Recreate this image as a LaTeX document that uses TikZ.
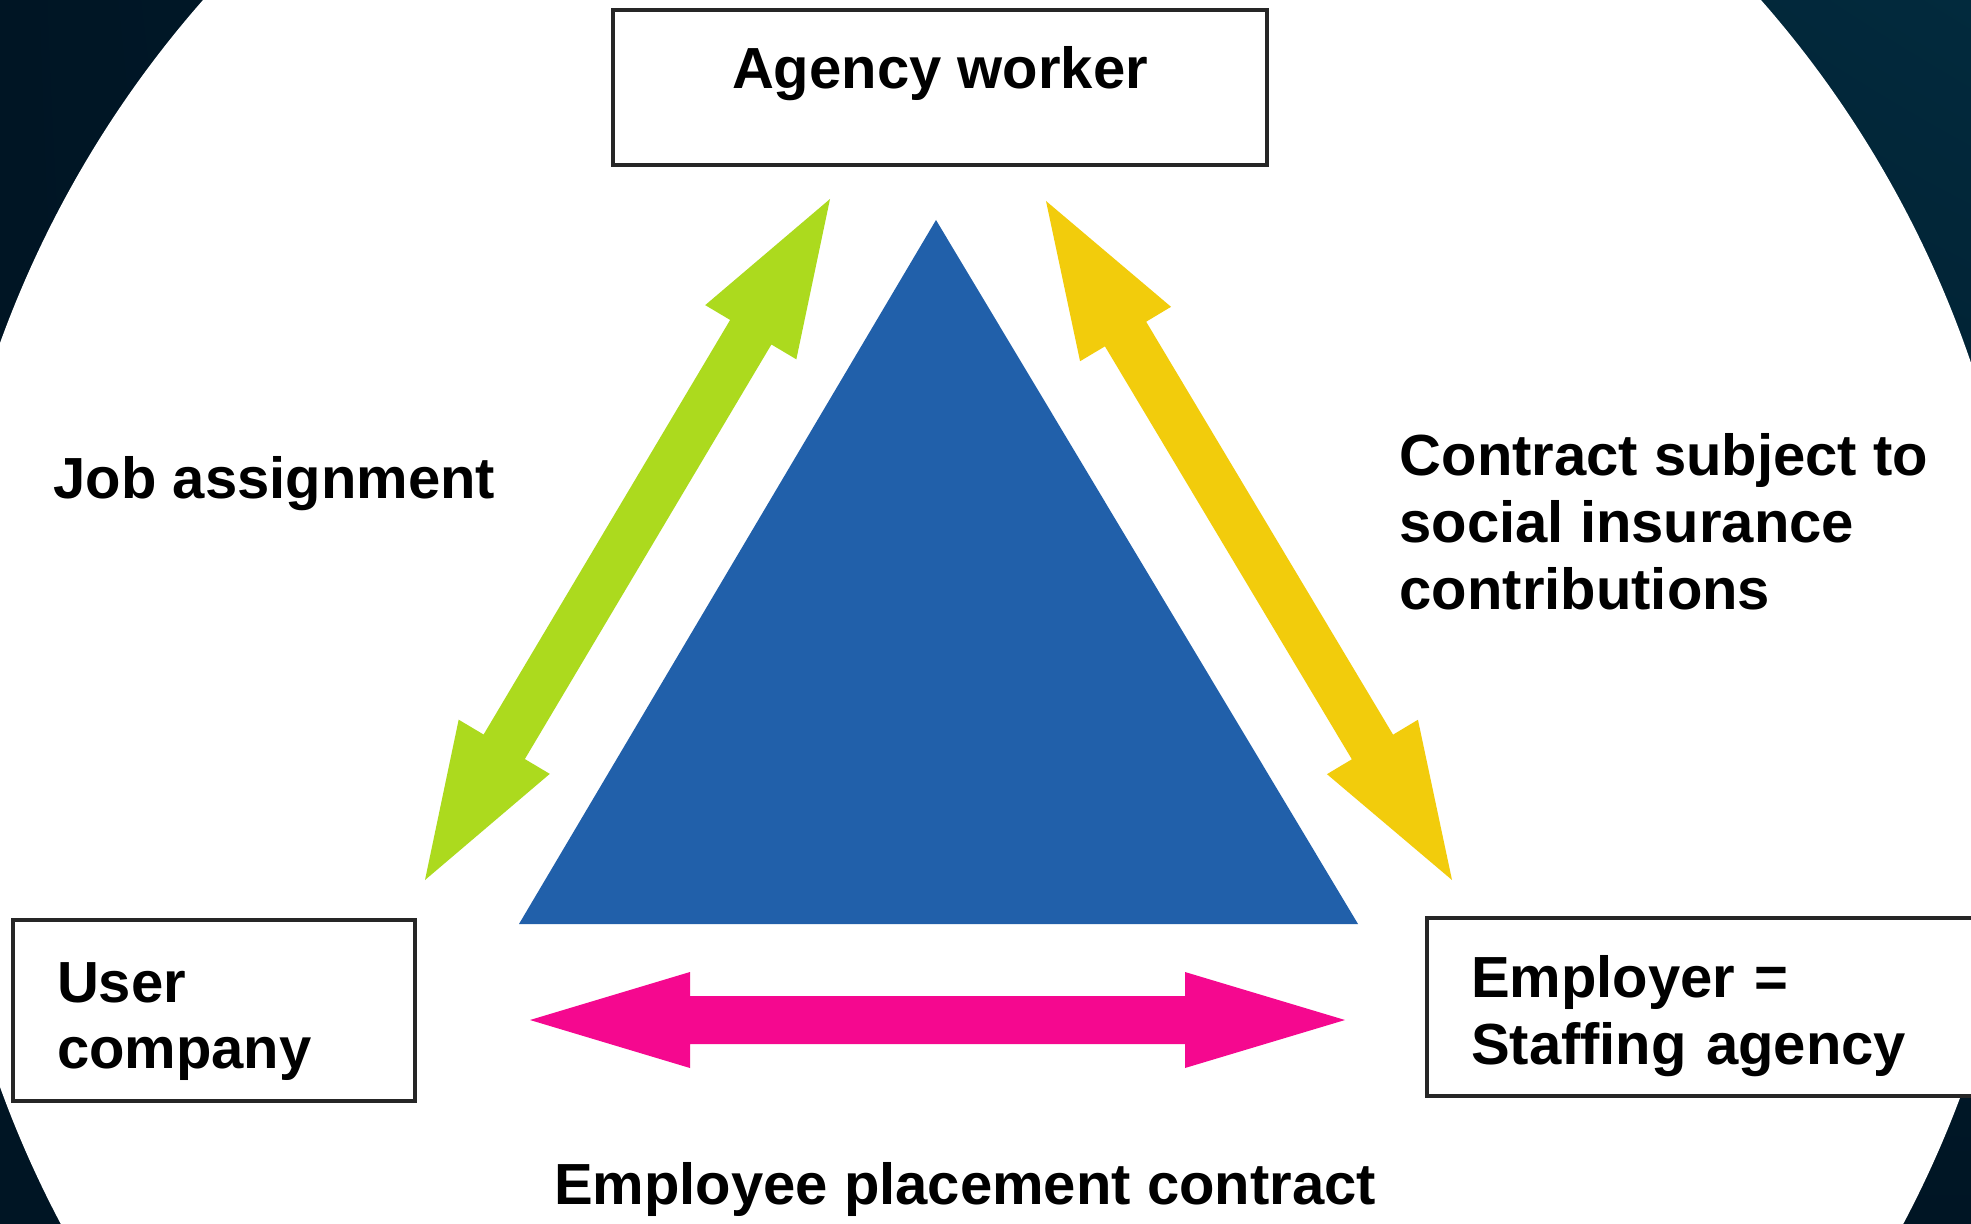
\documentclass[tikz,border=0pt]{standalone}
\usepackage{fontspec}
\setmainfont{Liberation Sans}
\usetikzlibrary{calc,shadings}
\definecolor{bgdark}{RGB}{0,21,36}
\definecolor{bgteal}{RGB}{2,42,61}
\definecolor{trigreen}{RGB}{172,218,30}
\definecolor{triyellow}{RGB}{242,204,12}
\definecolor{triblue}{RGB}{33,96,170}
\definecolor{trimagenta}{RGB}{245,8,143}
\tikzset{
  party/.style={draw=black!85, line width=0.9pt, fill=white, inner sep=0pt,
    font=\bfseries\fontsize{16.5}{19}\selectfont},
  rel/.style={inner sep=0pt, align=left, font=\bfseries\fontsize{16.5}{19}\selectfont},
}
% #1 colour, #2 start, #3 end, #4 head length, #5 head half width, #6 shaft half width
\newcommand{\dblarrow}[6]{%
  \path ($(#2)!#4!(#3)$) coordinate (ha) ($(#3)!#4!(#2)$) coordinate (hb);
  \fill[#1] (#2) -- ($(ha)!#5!-90:(#3)$) -- ($(ha)!#6!-90:(#3)$)
    -- ($(hb)!#6!90:(#2)$) -- ($(hb)!#5!90:(#2)$) -- (#3)
    -- ($(hb)!#5!-90:(#2)$) -- ($(hb)!#6!-90:(#2)$)
    -- ($(ha)!#6!90:(#3)$) -- ($(ha)!#5!90:(#3)$) -- cycle;
}
\begin{document}
\begin{tikzpicture}
  \useasboundingbox (0,0) rectangle (19.71,-12.24);
  \begin{scope}
    \clip (0,0) rectangle (19.71,-12.24);
    \shade[upper left=bgdark, lower left=bgdark, upper right=bgteal, lower right=bgdark]
      (0,0) rectangle (19.71,-12.24);
    \fill[white] (9.82,-7.15) ellipse [x radius=10.47, y radius=10.70];
    \fill[triblue] (9.36,-2.20) -- (5.19,-9.24) -- (13.58,-9.24) -- cycle;
    \node[party, minimum width=6.54cm, text height=0.79cm, text depth=0.76cm]
      (worker) at (9.40,-0.875) {Agency worker};
    \node[party, minimum width=4.02cm, minimum height=1.81cm, text width=3.14cm, align=left]
      (user) at (2.14,-10.105) {\rule{0pt}{0.62cm}User\\company};
    \node[party, minimum width=5.58cm, minimum height=1.78cm, text width=4.70cm, align=left]
      (agency) at (17.06,-10.07) {\rule{0pt}{0.60cm}Employer =\\Staffing agency};
    \node[rel, anchor=west] (assign) at (0.53,-4.84) {Job assignment};
    \node[rel, anchor=west] (insure) at (13.99,-5.22)
      {Contract subject to\\social insurance\\contributions};
    \node[rel] (placement) at (9.65,-11.89) {Employee placement contract};
    \coordinate (g1) at (4.25,-8.80);
    \coordinate (g2) at (8.30,-1.99);
    \coordinate (y1) at (10.46,-2.01);
    \coordinate (y2) at (14.52,-8.80);
    \coordinate (m1) at (5.30,-10.20);
    \coordinate (m2) at (13.45,-10.20);
    \dblarrow{trigreen}{g1}{g2}{1.55cm}{0.53cm}{0.24cm}
    \dblarrow{triyellow}{y1}{y2}{1.55cm}{0.53cm}{0.24cm}
    \dblarrow{trimagenta}{m1}{m2}{1.60cm}{0.48cm}{0.24cm}
  \end{scope}
\end{tikzpicture}
\end{document}
